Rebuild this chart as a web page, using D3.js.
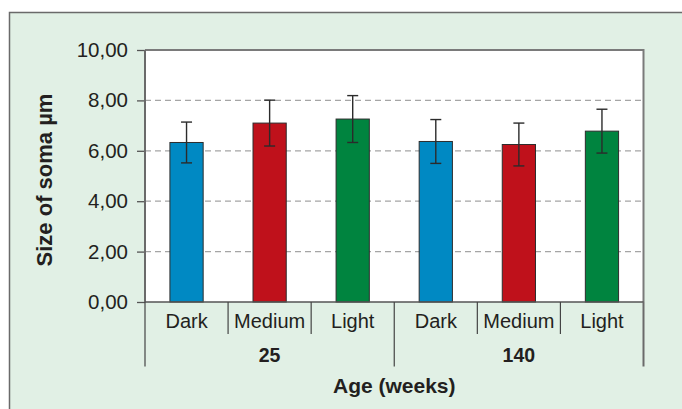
<!DOCTYPE html>
<html>
<head>
<meta charset="utf-8">
<script src="https://cdn.jsdelivr.net/npm/d3@7"></script>
<style>
  html, body { margin: 0; padding: 0; background: #ffffff; }
  svg { display: block; }
  text { font-family: "Liberation Sans", Arial, Helvetica, sans-serif; fill: #231f20; }
</style>
</head>
<body>
<svg id="chart" width="682" height="409"></svg>
<script>
// ---- data ----
const groups = ["25", "140"];
const categories = ["Dark", "Medium", "Light"];
const means = [6.33, 7.10, 7.26, 6.37, 6.25, 6.78];
const errors = [0.81, 0.91, 0.93, 0.87, 0.85, 0.87];
const colors = ["#0089c3", "#bf111b", "#00843f"];
const yTicks = [0, 2, 4, 6, 8, 10];
const yTitle = "Size of soma µm";
const xTitle = "Age (weeks)";

(function () {
const rows = [];
groups.forEach((g, gi) => categories.forEach((c, ci) => {
  const i = gi * categories.length + ci;
  rows.push({ id: i, group: g, cat: c, ci: ci, v: means[i], e: errors[i] });
}));

const svg = d3.select("#chart");
const pL = 145, pR = 643.5, pT = 50, pB = 302;

// background frame
svg.append("rect").attr("x", 0).attr("y", 0).attr("width", 682).attr("height", 409).attr("fill", "#ffffff");
svg.append("rect").attr("x", 9.5).attr("y", 12.5).attr("width", 700).attr("height", 420)
  .attr("fill", "#e1f0e5").attr("stroke", "#6a6a6a").attr("stroke-width", 1.5);

// plot area
svg.append("rect").attr("x", pL).attr("y", pT).attr("width", pR - pL).attr("height", pB - pT)
  .attr("fill", "#ffffff");

const x = d3.scaleBand().domain(rows.map(d => d.id)).range([pL, pR])
  .paddingInner(0.6).paddingOuter(0.3);
const y = d3.scaleLinear().domain([0, 10]).range([pB, pT]);

const locale = d3.formatLocale({ decimal: ",", thousands: ".", grouping: [3], currency: ["", ""] });
const fmt = locale.format(".2f");

// gridlines
svg.append("g").selectAll("line").data(yTicks.filter(t => t > 0 && t < 10)).join("line")
  .attr("x1", pL).attr("x2", pR)
  .attr("y1", d => y(d)).attr("y2", d => y(d))
  .attr("stroke", "#a5a5a5").attr("stroke-width", 1.3).attr("stroke-dasharray", "6,4");

// plot border top/right
svg.append("path")
  .attr("d", `M${pL},${pT}H${pR}V${pB}`)
  .attr("fill", "none").attr("stroke", "#7a7a7a").attr("stroke-width", 2);

// bars
svg.append("g").selectAll("rect").data(rows).join("rect")
  .attr("x", d => x(d.id)).attr("width", x.bandwidth())
  .attr("y", d => y(d.v)).attr("height", d => y(0) - y(d.v))
  .attr("fill", d => colors[d.ci]).attr("stroke", "#2d2d2d").attr("stroke-width", 1);

// error bars
const eb = svg.append("g").attr("stroke", "#2b2b2b").attr("stroke-width", 1.4);
rows.forEach(d => {
  const cx = x(d.id) + x.bandwidth() / 2;
  eb.append("line").attr("x1", cx).attr("x2", cx).attr("y1", y(d.v + d.e)).attr("y2", y(d.v - d.e));
  [d.v + d.e, d.v - d.e].forEach(v => {
    eb.append("line").attr("x1", cx - 5.5).attr("x2", cx + 5.5).attr("y1", y(v)).attr("y2", y(v));
  });
});

// y axis
const yAxis = svg.append("g").attr("transform", `translate(${pL},0)`)
  .call(d3.axisLeft(y).tickValues(yTicks).tickFormat(fmt).tickSize(8).tickPadding(9));
yAxis.select(".domain").remove();
yAxis.selectAll(".tick line").attr("stroke", "#555").attr("stroke-width", 1.3);
yAxis.selectAll(".tick text").style("font-size", "20.5px").attr("fill", "#231f20")
  .style("font-family", '"Liberation Sans", Arial, sans-serif');
svg.append("line").attr("x1", pL).attr("x2", pL).attr("y1", pT).attr("y2", pB)
  .attr("stroke", "#6a6a6a").attr("stroke-width", 2);

// x axis line
svg.append("line").attr("x1", pL).attr("x2", pR).attr("y1", pB).attr("y2", pB)
  .attr("stroke", "#555").attr("stroke-width", 1.5);

// category labels
const xAxis = svg.append("g").attr("transform", `translate(0,${pB})`)
  .call(d3.axisBottom(x).tickSize(0).tickPadding(0).tickFormat(i => rows[i].cat));
xAxis.select(".domain").remove();
xAxis.selectAll(".tick text").attr("dy", null).attr("y", 25.5).style("font-size", "20px")
  .attr("fill", "#231f20").style("font-family", '"Liberation Sans", Arial, sans-serif');

// separators
const step = x.step();
const sep = svg.append("g").attr("stroke", "#444").attr("stroke-width", 1.2);
rows.forEach((d, i) => {
  const isGroupEdge = d.ci === 0;
  const xs = i === 0 ? pL : x(d.id) - step * 0.3;
  sep.append("line").attr("x1", xs).attr("x2", xs).attr("y1", pB)
    .attr("y2", isGroupEdge ? 366.5 : 334);
});
sep.append("line").attr("x1", pR).attr("x2", pR).attr("y1", pB).attr("y2", 366.5)
  .attr("stroke", "#6a6a6a").attr("stroke-width", 2);

// group labels
groups.forEach((g, gi) => {
  const first = gi === 0 ? pL : x(gi * categories.length) - step * 0.3;
  const last = gi === groups.length - 1 ? pR : x((gi + 1) * categories.length) - step * 0.3;
  svg.append("text").attr("x", (first + last) / 2).attr("y", 362)
    .attr("text-anchor", "middle").style("font-size", "19.5px").style("font-weight", "bold").text(g);
});

// titles
svg.append("text").attr("x", (pL + pR) / 2).attr("y", 393)
  .attr("text-anchor", "middle").style("font-size", "21px").style("font-weight", "bold").text(xTitle);
svg.append("text").attr("transform", `translate(52,${(pT + pB) / 2 + 4}) rotate(-90)`)
  .attr("text-anchor", "middle").style("font-size", "22px").style("font-weight", "bold").text(yTitle);
})();
</script>
</body>
</html>
